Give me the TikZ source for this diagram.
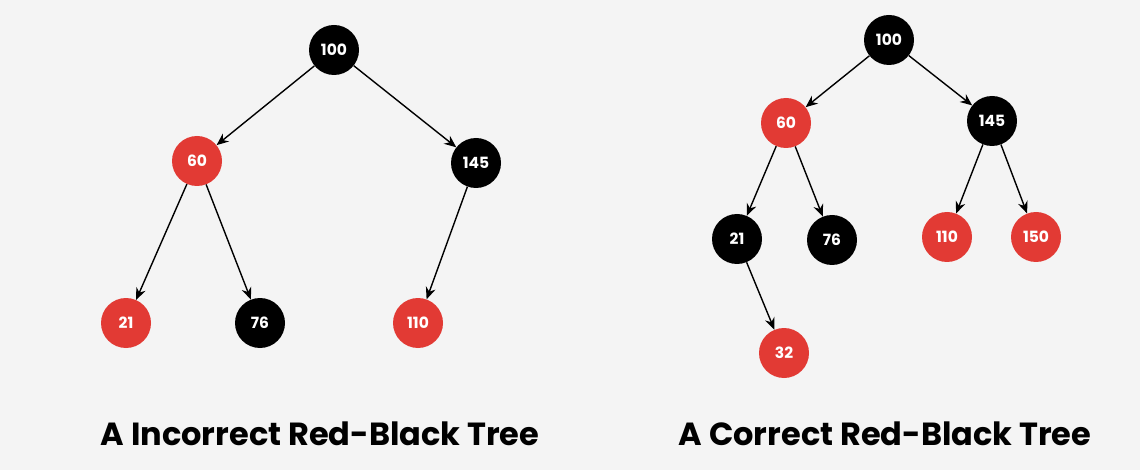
\documentclass[tikz,border=0pt]{standalone}
\usepackage{fontspec}
\setmainfont{Poppins}
\usetikzlibrary{arrows.meta}
\definecolor{rbred}{RGB}{226,58,52}
\definecolor{paper}{RGB}{244,244,244}
\begin{document}
\begin{tikzpicture}[x=1pt,y=-1pt,
	rbnode/.style={circle,minimum size=50pt,inner sep=0pt,text=white,font=\bfseries\fontsize{15.5}{15.5}\selectfont},
	rednode/.style={rbnode,fill=rbred},
	blknode/.style={rbnode,fill=black},
	edge/.style={black,line width=1.4pt,-{Stealth[length=12pt,width=10pt]}},
	caption/.style={font=\bfseries\fontsize{32}{32}\selectfont}]
	\fill[paper] (0,0) rectangle (1140,470);
	\useasboundingbox (0,0) rectangle (1140,470);
	% incorrect tree
	\node[blknode] (l100) at (334,50) {100};
	\node[rednode] (l60) at (197,161) {60};
	\node[blknode] (l145) at (476,163) {145};
	\node[rednode] (l21) at (126,323) {21};
	\node[blknode] (l76) at (260,323) {76};
	\node[rednode] (l110) at (418,323) {110};
	\draw[edge] (l100) -- (l60);
	\draw[edge] (l100) -- (l145);
	\draw[edge] (l60) -- (l21);
	\draw[edge] (l60) -- (l76);
	\draw[edge] (l145) -- (l110);
	% correct tree
	\node[blknode] (r100) at (889,40) {100};
	\node[rednode] (r60) at (786,123) {60};
	\node[blknode] (r145) at (992,121) {145};
	\node[blknode] (r21) at (737,239) {21};
	\node[blknode] (r76) at (832,240) {76};
	\node[rednode] (r110) at (947,237) {110};
	\node[rednode] (r150) at (1036,237) {150};
	\node[rednode] (r32) at (784,353) {32};
	\draw[edge] (r100) -- (r60);
	\draw[edge] (r100) -- (r145);
	\draw[edge] (r60) -- (r21);
	\draw[edge] (r60) -- (r76);
	\draw[edge] (r145) -- (r110);
	\draw[edge] (r145) -- (r150);
	\draw[edge] (r21) -- (r32);
	% captions
	\node[caption] (lcap) at (320,434) {A Incorrect Red-Black Tree};
	\node[caption] (rcap) at (885,434) {A Correct Red-Black Tree};
\end{tikzpicture}
\end{document}
